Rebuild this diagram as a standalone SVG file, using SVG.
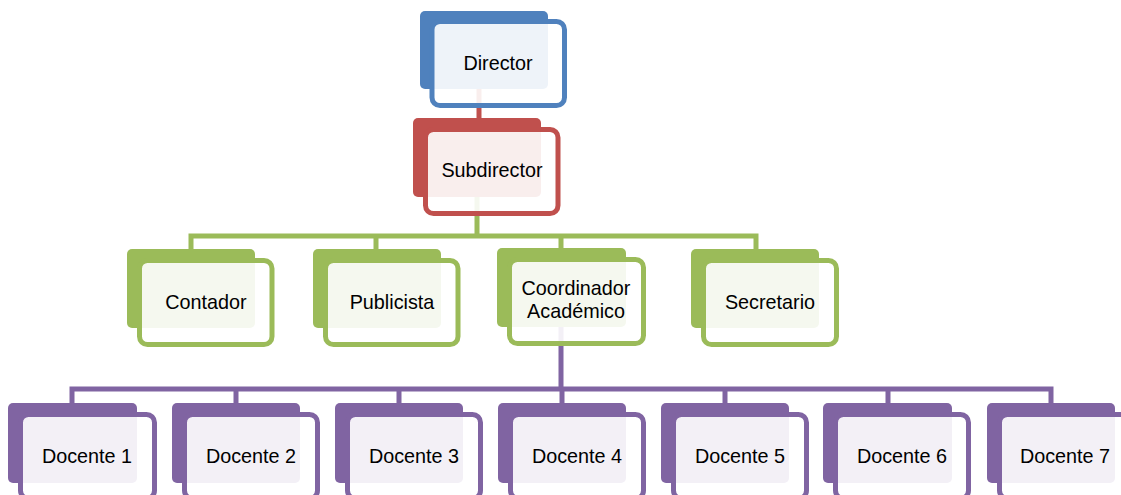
<svg xmlns="http://www.w3.org/2000/svg" width="1121" height="495" viewBox="0 0 1121 495">
<style>
.back{stroke:none}
.front{fill:#fff;fill-opacity:0.9;stroke-width:5}
.blue .back{fill:#4F81BD}.blue .front{stroke:#4F81BD}
.red .back{fill:#C0504D}.red .front{stroke:#C0504D}
.green .back{fill:#9BBB59}.green .front{stroke:#9BBB59}
.purple .back{fill:#8064A2}.purple .front{stroke:#8064A2}
.lbl{font-family:"Liberation Sans",Arial,sans-serif;font-size:19.8px;fill:#000;text-anchor:middle}
.conn{fill:none;stroke-width:5;stroke-linejoin:miter}
</style>
<g id="connectors">
<path class="conn" stroke="#C0504D" d="M479,89V120"/>
<path class="conn" stroke="#9BBB59" d="M477,197V236M191,249V236H756V249M376,236V249M561,236V249"/>
<path class="conn" stroke="#8064A2" d="M561,327V389M72,403V389H1051V403M236,389V403M399,389V403M562,389V403M725,389V403M888,389V403"/>
</g>
<g id="director" class="blue">
<rect class="back" x="420" y="11" width="128" height="78" rx="5"/>
<rect class="front" x="432" y="21.5" width="132.5" height="84" rx="8"/>
<text class="lbl" x="498" y="70">Director</text>
</g>
<g id="subdirector" class="red">
<rect class="back" x="413" y="118" width="128" height="79" rx="5"/>
<rect class="front" x="425.5" y="129.5" width="132.5" height="84" rx="8"/>
<text class="lbl" x="492" y="177">Subdirector</text>
</g>
<g id="contador" class="green">
<rect class="back" x="127" y="249" width="128" height="79" rx="5"/>
<rect class="front" x="139.5" y="260.5" width="132.5" height="84" rx="8"/>
<text class="lbl" x="206" y="309">Contador</text>
</g>
<g id="publicista" class="green">
<rect class="back" x="313" y="249" width="128" height="79" rx="5"/>
<rect class="front" x="325.5" y="260.5" width="132.5" height="84" rx="8"/>
<text class="lbl" x="392" y="309">Publicista</text>
</g>
<g id="coordinador" class="green">
<rect class="back" x="497" y="248" width="129" height="79" rx="5"/>
<rect class="front" x="509.5" y="259.5" width="134" height="84" rx="8"/>
<text class="lbl" x="576" y="295">Coordinador</text>
<text class="lbl" x="576" y="318">Académico</text>
</g>
<g id="secretario" class="green">
<rect class="back" x="691" y="249" width="128" height="79" rx="5"/>
<rect class="front" x="703.5" y="260.5" width="133" height="84" rx="8"/>
<text class="lbl" x="770" y="309">Secretario</text>
</g>
<g id="docente1" class="purple">
<rect class="back" x="8" y="403" width="129" height="80" rx="5"/>
<rect class="front" x="20.5" y="414.5" width="134" height="84" rx="8"/>
<text class="lbl" x="87" y="463">Docente 1</text>
</g>
<g id="docente2" class="purple">
<rect class="back" x="172" y="403" width="128" height="80" rx="5"/>
<rect class="front" x="184.5" y="414.5" width="133" height="84" rx="8"/>
<text class="lbl" x="251" y="463">Docente 2</text>
</g>
<g id="docente3" class="purple">
<rect class="back" x="335" y="403" width="128" height="80" rx="5"/>
<rect class="front" x="347.5" y="414.5" width="133" height="84" rx="8"/>
<text class="lbl" x="414" y="463">Docente 3</text>
</g>
<g id="docente4" class="purple">
<rect class="back" x="498" y="403" width="128" height="80" rx="5"/>
<rect class="front" x="510.5" y="414.5" width="133" height="84" rx="8"/>
<text class="lbl" x="577" y="463">Docente 4</text>
</g>
<g id="docente5" class="purple">
<rect class="back" x="661" y="403" width="128" height="80" rx="5"/>
<rect class="front" x="673.5" y="414.5" width="133" height="84" rx="8"/>
<text class="lbl" x="740" y="463">Docente 5</text>
</g>
<g id="docente6" class="purple">
<rect class="back" x="823" y="403" width="129" height="80" rx="5"/>
<rect class="front" x="835.5" y="414.5" width="133" height="84" rx="8"/>
<text class="lbl" x="902" y="463">Docente 6</text>
</g>
<g id="docente7" class="purple">
<rect class="back" x="987" y="403" width="128" height="80" rx="5"/>
<rect class="front" x="999.5" y="414.5" width="133" height="84" rx="8"/>
<text class="lbl" x="1065" y="463">Docente 7</text>
</g>
</svg>
